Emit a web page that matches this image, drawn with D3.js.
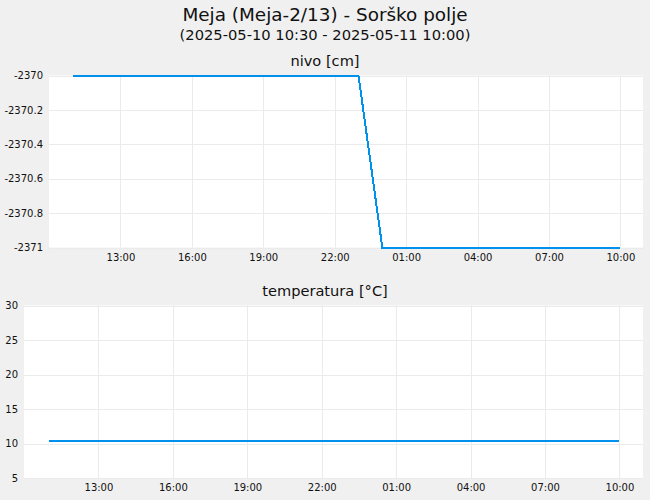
<!DOCTYPE html>
<html>
<head>
<meta charset="utf-8">
<script src="https://cdn.jsdelivr.net/npm/d3@7"></script>
<style>
    body { margin: 0; background: #f0f0f0; }
    text { font-family: "DejaVu Sans", sans-serif; fill: #111; }
    .grid line { stroke: #ebebeb; stroke-width: 1; }
</style>
</head>
<body>
<script>
// podatki
let tickTimes = ["2025-05-10 13:00", "2025-05-10 16:00", "2025-05-10 19:00", "2025-05-10 22:00",
    "2025-05-11 01:00", "2025-05-11 04:00", "2025-05-11 07:00", "2025-05-11 10:00"];

let nivoTimes = ["2025-05-10 11:00", "2025-05-10 23:00", "2025-05-11 00:00", "2025-05-11 10:00"];
let nivoValues = [-2370, -2370, -2371, -2371];
let nivoTicks = [-2370, -2370.2, -2370.4, -2370.6, -2370.8, -2371];

let tempTimes = ["2025-05-10 11:00", "2025-05-11 10:00"];
let tempValues = [10.4, 10.4];
let tempTicks = [5, 10, 15, 20, 25, 30];

let parseTime = d3.timeParse("%Y-%m-%d %H:%M");
let timeDomain = [parseTime("2025-05-10 10:00"), parseTime("2025-05-11 10:57")];

let width = 650,
    height = 500,
    lineColor = "#0091ee";

let svg = d3.select("body").append("svg")
    .attr("width", width)
    .attr("height", height);

svg.append("rect").attr("width", width).attr("height", height).attr("fill", "#f0f0f0");

svg.append("text")
    .attr("x", 325).attr("y", 21)
    .attr("text-anchor", "middle")
    .style("font-size", "18.4px")
    .text("Meja (Meja-2/13) - Sorško polje");

svg.append("text")
    .attr("x", 325).attr("y", 40)
    .attr("text-anchor", "middle")
    .style("font-size", "14.7px")
    .text("(2025-05-10 10:30 - 2025-05-11 10:00)");

function drawPanel(opts) {
    let x = d3.scaleTime().domain(timeDomain).range([opts.left, opts.right]);
    let y = d3.scaleLinear().domain(opts.yDomain).range([opts.bottom, opts.top]);

    svg.append("text")
        .attr("x", 325).attr("y", opts.top - 10)
        .attr("text-anchor", "middle")
        .style("font-size", "14.6px")
        .text(opts.title);

    svg.append("rect")
        .attr("x", opts.left).attr("y", opts.top)
        .attr("width", opts.right - opts.left)
        .attr("height", opts.bottom - opts.top)
        .attr("fill", "#fff");

    let ticks = tickTimes.map(parseTime);

    // mreža
    let grid = svg.append("g").attr("class", "grid");
    grid.selectAll("line.v")
        .data(ticks)
        .enter().append("line")
        .attr("class", "v")
        .attr("x1", d => Math.round(x(d)) + 0.5).attr("x2", d => Math.round(x(d)) + 0.5)
        .attr("y1", opts.top).attr("y2", opts.bottom);
    grid.selectAll("line.h")
        .data(opts.yTicks)
        .enter().append("line")
        .attr("class", "h")
        .attr("x1", opts.left).attr("x2", opts.right)
        .attr("y1", d => Math.round(y(d)) + 0.5).attr("y2", d => Math.round(y(d)) + 0.5);

    // osi
    let xAxis = d3.axisBottom(x).tickValues(ticks).tickFormat(d3.timeFormat("%H:%M")).tickSize(0).tickPadding(6);
    let gx = svg.append("g").attr("transform", `translate(0, ${opts.bottom})`).call(xAxis);
    gx.select(".domain").remove();
    gx.selectAll("text").style("font-size", "10px").style("font-family", "DejaVu Sans").attr("fill", "#111");

    let yAxis = d3.axisLeft(y).tickValues(opts.yTicks).tickFormat(d => String(Math.round(d * 10) / 10)).tickSize(0).tickPadding(opts.yPad);
    let gy = svg.append("g").attr("transform", `translate(${opts.left}, 0)`).call(yAxis);
    gy.select(".domain").remove();
    gy.selectAll("text").style("font-size", "10px").style("font-family", "DejaVu Sans").attr("fill", "#111");

    let data = opts.times.map((t, i) => ({ t: parseTime(t), v: opts.values[i] }));
    let line = d3.line().x(d => x(d.t)).y(d => y(d.v));

    svg.append("path")
        .datum(data)
        .attr("d", line)
        .attr("fill", "none")
        .attr("stroke", lineColor)
        .attr("stroke-width", 2)
        .attr("shape-rendering", "crispEdges");
}

drawPanel({
    title: "nivo [cm]",
    left: 49, right: 643, top: 75.5, bottom: 247.5,
    yDomain: [-2371, -2370], yTicks: nivoTicks, yPad: 6,
    times: nivoTimes, values: nivoValues
});

drawPanel({
    title: "temperatura [°C]",
    left: 24, right: 643, top: 305.5, bottom: 478,
    yDomain: [5, 30], yTicks: tempTicks, yPad: 6,
    times: tempTimes, values: tempValues
});
</script>
</body>
</html>
